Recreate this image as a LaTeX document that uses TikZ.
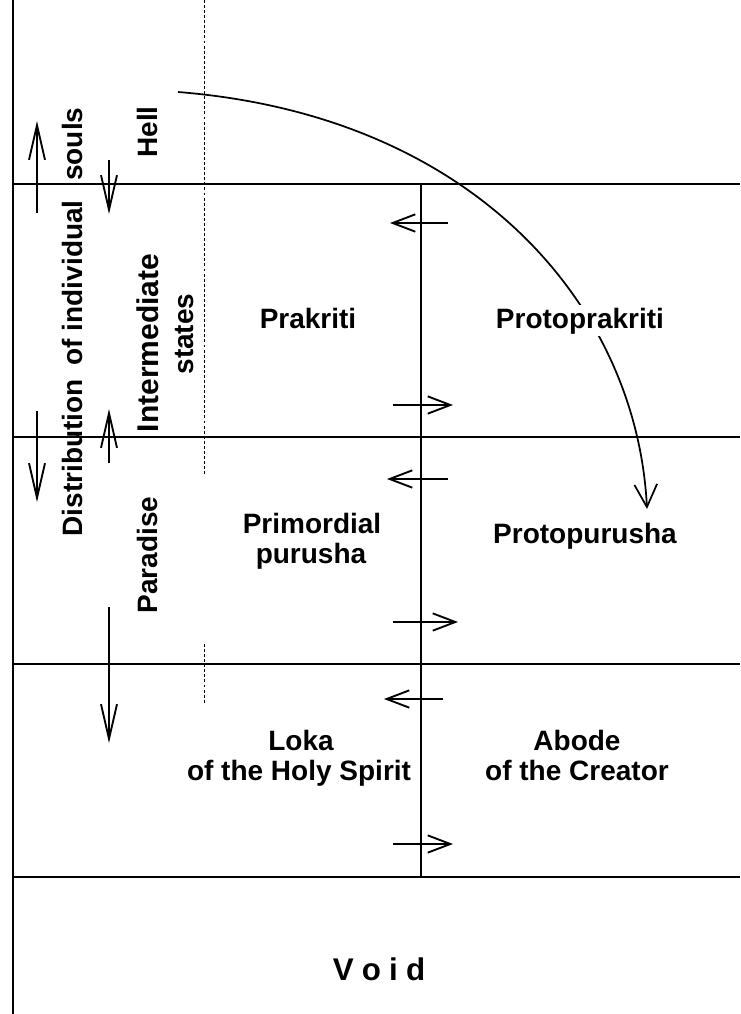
\documentclass[tikz,border=0pt]{standalone}
\usepackage{fontspec}
\setmainfont{Liberation Sans}
\usetikzlibrary{arrows.meta}
\begin{document}
\begin{tikzpicture}[x=0.75pt,y=-0.75pt,
  lbl/.style={font=\fontsize{21}{23}\selectfont\bfseries, inner sep=0pt, anchor=base},
  vlbl/.style={lbl, rotate=90},
  wall/.style={line width=1.7pt},
  guide/.style={line width=0.7pt, dash pattern=on 2.2pt off 1.6pt},
  varr/.style={line width=1.4pt, -{Straight Barb[length=26pt,width=12pt,line width=1.4pt]}},
  harr/.style={line width=1.4pt, -{Straight Barb[length=17pt,width=13pt,line width=1.4pt]}},
  carr/.style={line width=1.3pt, -{Straight Barb[length=17pt,width=17pt,line width=1.3pt]}}]
\useasboundingbox (0,0) rectangle (740,1014);

% frame lines
\draw[wall] (13,0) -- (13,1014);
\draw[wall] (13,184) -- (740,184);
\draw[wall] (13,437) -- (740,437);
\draw[wall] (13,664) -- (740,664);
\draw[wall] (13,877) -- (740,877);
\draw[wall] (421,184) -- (421,877);

% dotted guides
\draw[guide] (204,0) -- (204,474);
\draw[guide] (204,644) -- (204,703);

% left vertical arrows
\draw[varr] (37,213) -- (37,121);
\draw[varr] (109,160) -- (109,214);
\draw[varr] (37,411) -- (37,502);
\draw[varr] (109,463) -- (109,409);
\draw[varr] (109,607) -- (109,743);

% horizontal arrows at the middle line
\draw[harr] (448,223) -- (390,223);
\draw[harr] (393,405) -- (453,405);
\draw[harr] (448,479) -- (387,479);
\draw[harr] (393,622) -- (458,622);
\draw[harr] (443,699) -- (384,699);
\draw[harr] (393,844) -- (453,844);

% big curve
\draw[carr] (178,92) .. controls (478,116) and (637,309) .. (647,509);

% labels
\node[vlbl] (hell) at (157,132) {Hell};
\node[vlbl] (dist) at (82,322) {Distribution\hspace{0.5em}of individual\hspace{0.7em}souls};
\node[vlbl, font=\fontsize{22.5}{24}\selectfont\bfseries] (inter) at (158,343) {Intermediate};
\node[vlbl] (states) at (193,334) {states};
\node[vlbl] (para) at (157,555) {Paradise};

\node[lbl, fill=white, inner sep=2pt] (prak) at (308,328) {Prakriti};
\node[lbl, fill=white, inner sep=2pt] (protoprak) at (580,328) {Protoprakriti};
\node[lbl] (prim1) at (312,533) {Primordial};
\node[lbl] (prim2) at (311,563) {purusha};
\node[lbl] (protopur) at (585,543) {Protopurusha};
\node[lbl] (loka1) at (301,750) {Loka};
\node[lbl] (loka2) at (299,780) {of the Holy Spirit};
\node[lbl] (abode1) at (577,750) {Abode};
\node[lbl] (abode2) at (577,780) {of the Creator};
\node[lbl, font=\fontsize{23.5}{25}\selectfont\bfseries] (void) at (379,980) {V\hspace{0.26em}o\hspace{0.26em}i\hspace{0.26em}d};
\end{tikzpicture}
\end{document}
